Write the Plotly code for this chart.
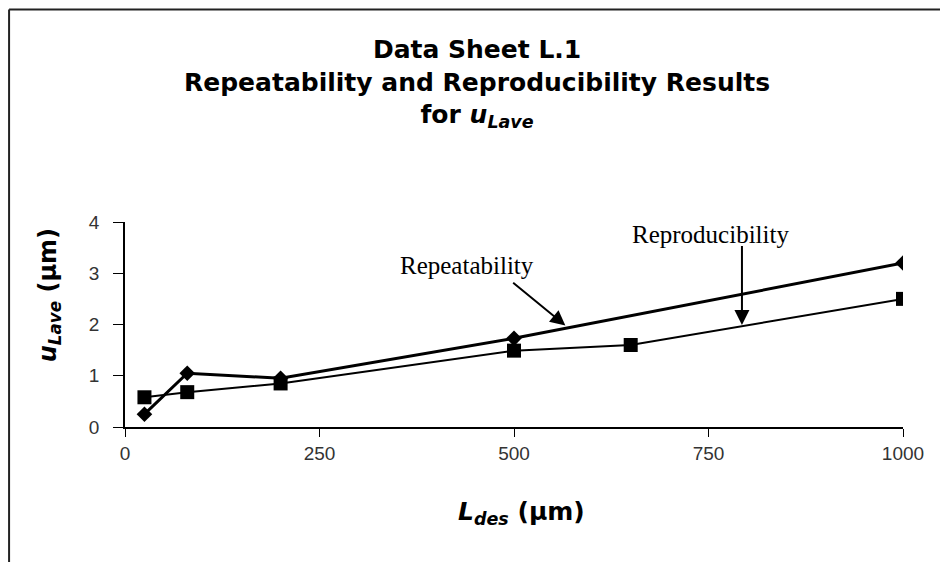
import plotly.graph_objects as go

# data
rep_x = [25, 80, 200, 500, 1000]
rep_y = [0.25, 1.05, 0.95, 1.73, 3.2]
repro_x = [25, 80, 200, 500, 650, 1000]
repro_y = [0.58, 0.68, 0.85, 1.49, 1.6, 2.5]

x_ticks = [0, 250, 500, 750, 1000]
y_ticks = [0, 1, 2, 3, 4]

fig = go.Figure()

fig.add_trace(go.Scatter(x=rep_x, y=rep_y, mode='lines+markers', name='Repeatability',
                         line=dict(color='black', width=3),
                         marker=dict(symbol='diamond', size=12, color='black')))
fig.add_trace(go.Scatter(x=repro_x, y=repro_y, mode='lines+markers', name='Reproducibility',
                         line=dict(color='black', width=2),
                         marker=dict(symbol='square', size=14, color='black')))

title_font = dict(family='DejaVu Sans', size=25, color='black')
tick_font = dict(family='Liberation Sans, Arial', size=19, color='#333')
note_font = dict(family='Liberation Serif, Times New Roman', size=25, color='black')

annotations = [
    # chart title
    dict(text='<b>Data Sheet L.1<br>Repeatability and Reproducibility Results<br>'
              'for <i>u</i><sub><i>Lave</i></sub></b>',
         xref='paper', yref='paper', x=0.453, y=1.92, xanchor='center', yanchor='top',
         showarrow=False, font=title_font),
    # axis titles
    dict(text='<b><i>L</i><sub><i>des</i></sub> (µm)</b>',
         xref='paper', yref='paper', x=0.51, y=-0.42, xanchor='center', yanchor='middle',
         showarrow=False, font=title_font),
    dict(text='<b><i>u</i><sub><i>Lave</i></sub> (µm)</b>', textangle=-90,
         xref='paper', yref='paper', x=-0.097, y=0.64, xanchor='center', yanchor='middle',
         showarrow=False, font=dict(family='DejaVu Sans', size=24, color='black')),
    # labels with arrows
    dict(text='Repeatability', x=440, y=3.16, xref='x', yref='y', showarrow=False,
         font=note_font),
    dict(x=566, y=1.98, ax=497, ay=2.84, xref='x', yref='y', axref='x', ayref='y',
         showarrow=True, arrowhead=2, arrowsize=1.5, arrowwidth=2, arrowcolor='black',
         text=''),
    dict(text='Reproducibility', x=752, y=3.75, xref='x', yref='y', showarrow=False,
         font=note_font),
    dict(x=793, y=1.99, ax=793, ay=3.56, xref='x', yref='y', axref='x', ayref='y',
         showarrow=True, arrowhead=2, arrowsize=1.5, arrowwidth=2, arrowcolor='black',
         text=''),
]

# the page adds an 8px body margin, so the figure is 8px smaller and margins shifted
fig.update_layout(
    width=940, height=554,
    margin=dict(l=117, r=45, t=214, b=135),
    paper_bgcolor='white', plot_bgcolor='white',
    showlegend=False,
    annotations=annotations,
    shapes=[
        # outer frame (top and left edges visible)
        dict(type='line', xref='paper', yref='paper', x0=-0.149, x1=1.1, y0=2.036, y1=2.036,
             line=dict(color='#222', width=2)),
        dict(type='line', xref='paper', yref='paper', x0=-0.149, x1=-0.149, y0=2.036, y1=-0.7,
             line=dict(color='#222', width=2)),
    ],
)

fig.update_xaxes(range=[0, 1000], tickvals=x_ticks, showgrid=False, zeroline=False,
                 showline=True, linecolor='black', linewidth=1.5, ticks='outside',
                 ticklen=8, tickcolor='black', tickfont=tick_font)
fig.update_yaxes(range=[0, 4], tickvals=y_ticks, showgrid=False, zeroline=False,
                 showline=True, linecolor='black', linewidth=1.5, ticks='outside',
                 ticklen=10, tickcolor='black', tickfont=tick_font, ticklabelstandoff=10)

fig.write_html("out.html")
